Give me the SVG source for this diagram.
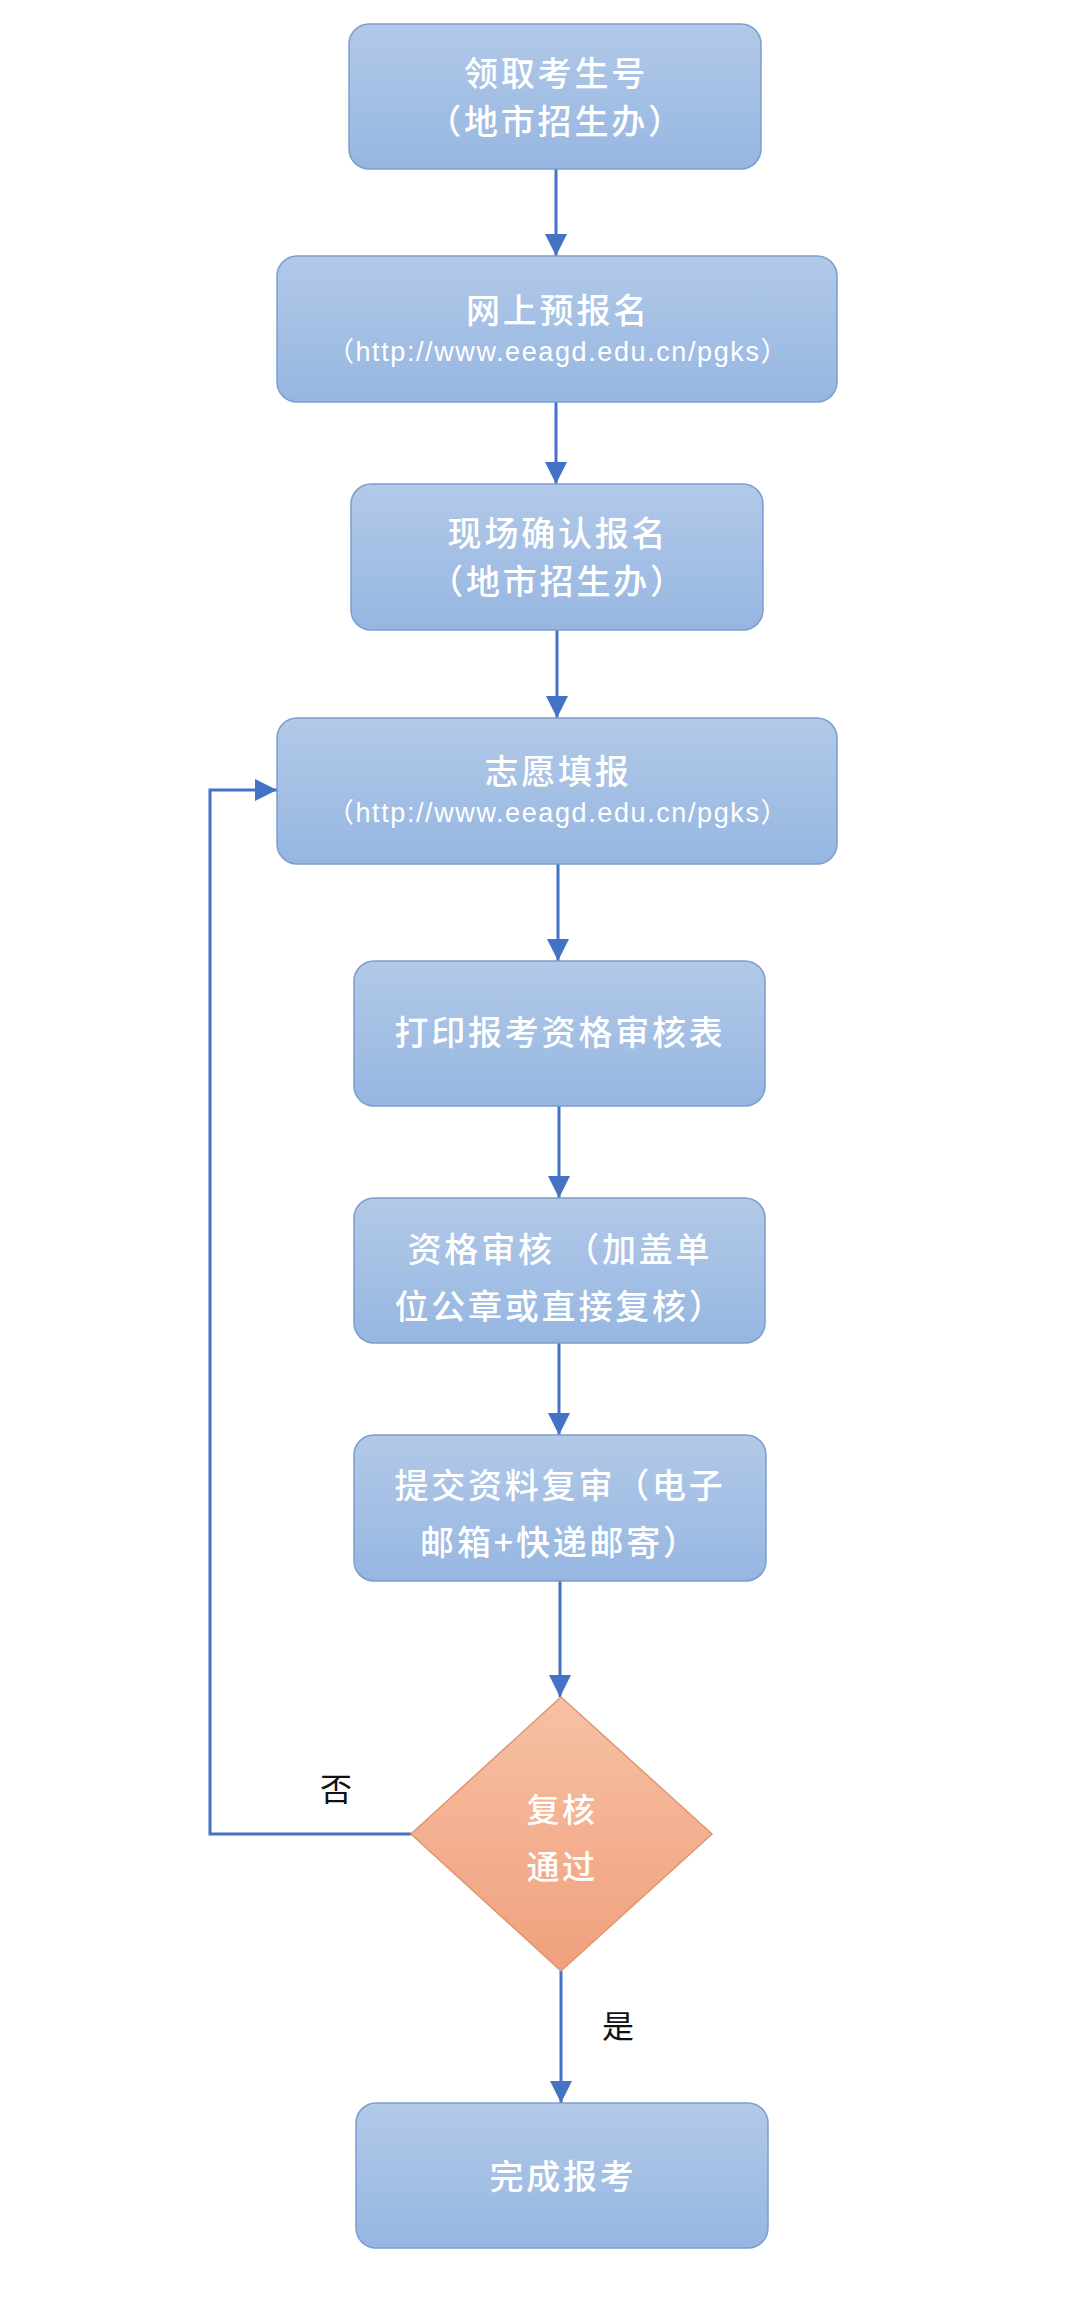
<svg xmlns="http://www.w3.org/2000/svg" width="1080" height="2322" viewBox="0 0 1080 2322">
<defs>
<linearGradient id="gBox" x1="0" y1="0" x2="0" y2="1">
<stop offset="0" stop-color="#B2C9E8"/>
<stop offset="1" stop-color="#96B6E1"/>
</linearGradient>
<linearGradient id="gDia" x1="0" y1="0" x2="0" y2="1">
<stop offset="0" stop-color="#F7C1A4"/>
<stop offset="1" stop-color="#F0A07D"/>
</linearGradient>
<marker id="arr" viewBox="0 0 22 22" refX="22" refY="11" markerWidth="22" markerHeight="22" markerUnits="userSpaceOnUse" orient="auto">
<path d="M0,0 L22,11 L0,22 z" fill="#4472C4"/>
</marker>
<style>
.box{fill:url(#gBox);stroke:#7D9DCD;stroke-width:1.5}
.dia{fill:url(#gDia);stroke:#DE9670;stroke-width:1.5}
.t{font-family:"Noto Sans CJK SC",sans-serif;font-size:34px;font-weight:500;fill:#FFFFFF;text-anchor:middle;letter-spacing:2.8px}
.d{font-family:"Noto Sans CJK SC",sans-serif;font-size:33px;font-weight:500;fill:#FFFFFF;text-anchor:middle;letter-spacing:2.5px}
.u{font-family:"Liberation Sans","Noto Sans CJK SC",sans-serif;font-size:27px;fill:#FFFFFF;text-anchor:middle;letter-spacing:1.6px}
.lbl{font-family:"Noto Sans CJK SC",sans-serif;font-size:32px;fill:#111111;text-anchor:middle}
.c{fill:none;stroke:#4472C4;stroke-width:3;marker-end:url(#arr)}
</style>
</defs>
<rect width="1080" height="2322" fill="#FFFFFF"/>
<g id="connectors">
<line class="c" x1="556" y1="169" x2="556" y2="256"/>
<line class="c" x1="556" y1="402" x2="556" y2="484"/>
<line class="c" x1="557" y1="630" x2="557" y2="718"/>
<line class="c" x1="558" y1="864" x2="558" y2="961"/>
<line class="c" x1="559" y1="1106" x2="559" y2="1198"/>
<line class="c" x1="559" y1="1343" x2="559" y2="1435"/>
<line class="c" x1="560" y1="1581" x2="560" y2="1697"/>
<line class="c" x1="561" y1="1971" x2="561" y2="2103"/>
<polyline class="c" points="411,1834 210,1834 210,790 277,790"/>
</g>
<g id="n1">
<rect class="box" x="349" y="24" width="412" height="145" rx="20"/>
<text class="t" x="556" y="86">领取考生号</text>
<text class="t" x="556" y="134">（地市招生办）</text>
</g>
<g id="n2">
<rect class="box" x="277" y="256" width="560" height="146" rx="20"/>
<text class="t" x="558" y="323">网上预报名</text>
<text class="u" x="558" y="361">（http://www.eeagd.edu.cn/pgks）</text>
</g>
<g id="n3">
<rect class="box" x="351" y="484" width="412" height="146" rx="20"/>
<text class="t" x="558" y="546">现场确认报名</text>
<text class="t" x="558" y="594">（地市招生办）</text>
</g>
<g id="n4">
<rect class="box" x="277" y="718" width="560" height="146" rx="20"/>
<text class="t" x="558" y="784">志愿填报</text>
<text class="u" x="558" y="822">（http://www.eeagd.edu.cn/pgks）</text>
</g>
<g id="n5">
<rect class="box" x="354" y="961" width="411" height="145" rx="20"/>
<text class="t" x="560" y="1045">打印报考资格审核表</text>
</g>
<g id="n6">
<rect class="box" x="354" y="1198" width="411" height="145" rx="20"/>
<text class="t" x="560" y="1262">资格审核 （加盖单</text>
<text class="t" x="560" y="1319">位公章或直接复核）</text>
</g>
<g id="n7">
<rect class="box" x="354" y="1435" width="412" height="146" rx="20"/>
<text class="t" x="560" y="1498">提交资料复审（电子</text>
<text class="t" x="560" y="1555">邮箱+快递邮寄）</text>
</g>
<g id="n8">
<polygon class="dia" points="561,1697 712,1834 561,1971 411,1834"/>
<text class="d" x="562" y="1822">复核</text>
<text class="d" x="562" y="1879">通过</text>
</g>
<g id="n9">
<rect class="box" x="356" y="2103" width="412" height="145" rx="20"/>
<text class="t" x="563" y="2189">完成报考</text>
</g>
<g id="labels">
<text class="lbl" x="336" y="1801">否</text>
<text class="lbl" x="618" y="2038">是</text>
</g>
</svg>
